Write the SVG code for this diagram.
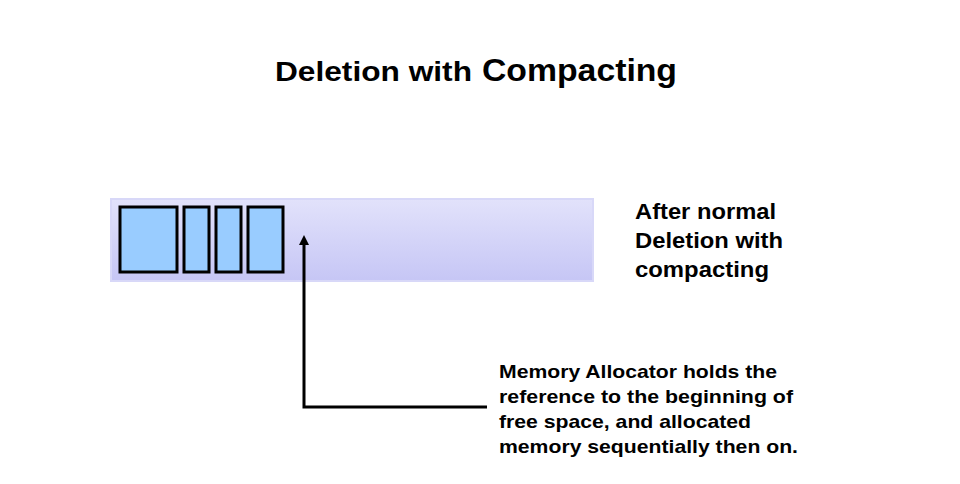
<svg xmlns="http://www.w3.org/2000/svg" width="960" height="484" viewBox="0 0 960 484">
<defs>
<linearGradient id="barGrad" x1="0" y1="0" x2="0" y2="1">
<stop offset="0" stop-color="#e2e2fb"/>
<stop offset="1" stop-color="#c6c6f5"/>
</linearGradient>
<marker id="arrow" markerWidth="10" markerHeight="10" refX="5" refY="5" orient="auto" markerUnits="userSpaceOnUse">
<path d="M0,0 L10,5 L0,10 Z" fill="#000"/>
</marker>
<style>
text{font-family:"Liberation Sans",Arial,sans-serif;font-weight:bold;fill:#000}
.blk{fill:#99ccff;stroke:#000;stroke-width:3}
.conn{fill:none;stroke:#000;stroke-width:3}
</style>
</defs>
<rect width="960" height="484" fill="#fff"/>
<g id="title">
<text x="275" y="81" font-size="28" textLength="197" lengthAdjust="spacingAndGlyphs">Deletion with</text>
<text x="482" y="81" font-size="31" textLength="195" lengthAdjust="spacingAndGlyphs">Compacting</text>
</g>
<g id="memory-bar">
<rect x="111" y="199" width="482" height="82" fill="url(#barGrad)" stroke="#d8d8f8" stroke-width="2"/>
</g>
<g id="block1"><rect class="blk" x="120" y="207" width="57" height="65"/></g>
<g id="block2"><rect class="blk" x="184" y="207" width="25" height="65"/></g>
<g id="block3"><rect class="blk" x="216" y="207" width="25" height="65"/></g>
<g id="block4"><rect class="blk" x="248" y="207" width="35" height="65"/></g>
<g id="connectors">
<path class="conn" d="M487,407 L304,407 L304,240" marker-end="url(#arrow)"/>
</g>
<g id="label-after">
<text x="635" y="219" font-size="22" textLength="141" lengthAdjust="spacingAndGlyphs">After normal</text>
<text x="635" y="248" font-size="22" textLength="148" lengthAdjust="spacingAndGlyphs">Deletion with</text>
<text x="635" y="277" font-size="22" textLength="134" lengthAdjust="spacingAndGlyphs">compacting</text>
</g>
<g id="label-allocator">
<text x="499" y="378" font-size="18.5" textLength="278" lengthAdjust="spacingAndGlyphs">Memory Allocator holds the</text>
<text x="499" y="403" font-size="18.5" textLength="294" lengthAdjust="spacingAndGlyphs">reference to the beginning of</text>
<text x="499" y="428" font-size="18.5" textLength="252" lengthAdjust="spacingAndGlyphs">free space, and allocated</text>
<text x="499" y="453" font-size="18.5" textLength="299" lengthAdjust="spacingAndGlyphs">memory sequentially then on.</text>
</g>
</svg>
